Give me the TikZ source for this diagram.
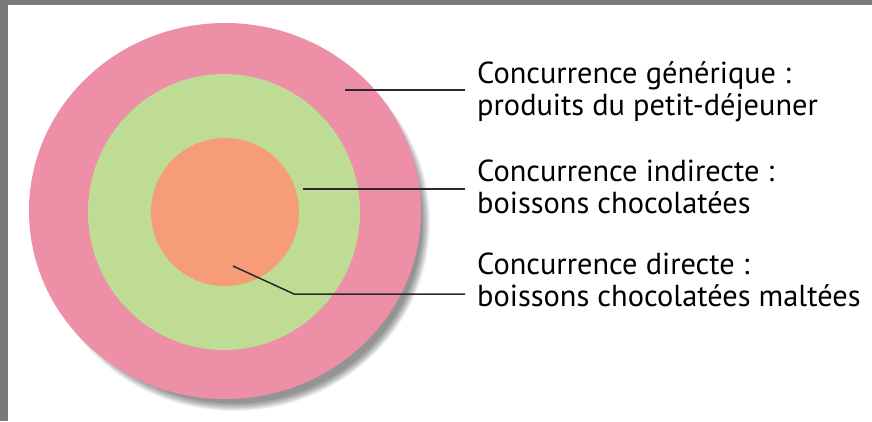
\documentclass[tikz,border=0pt]{standalone}
\usepackage{fontspec}
\setmainfont{PT Sans}
\definecolor{frame}{RGB}{122,122,122}
\definecolor{pinkring}{RGB}{238,143,168}
\definecolor{greenring}{RGB}{191,220,149}
\definecolor{orangecore}{RGB}{246,156,118}
\definecolor{lead}{RGB}{45,40,40}
\tikzset{
  label/.style={anchor=base west, align=left, inner sep=0pt, text=black,
    font=\fontsize{30.5}{31.5}\selectfont},
  leader/.style={draw=lead, line width=1.5bp},
}
\begin{document}
\begin{tikzpicture}[x=1bp, y=-1bp]
\useasboundingbox (0,0) rectangle (872,421);
\fill[frame] (0,0) rectangle (872,421);
\fill[white] (8,5) rectangle (872,421);
% soft shadow
\foreach \i in {0,...,9} {
  \fill[black, opacity=0.05] (234,222) ellipse [x radius={196bp-\i*0.9bp}, y radius={189bp-\i*0.9bp}];
}
\fill[pinkring] (225,211) ellipse [x radius=196bp, y radius=188bp];
\fill[greenring] (224,212) ellipse [x radius=136bp, y radius=138bp];
\fill[orangecore] (225,212) circle [radius=74bp];
% labels (anchor at baseline of the last line)
\node[label] (t1) at (477,115) {Concurrence générique :\\produits du petit-déjeuner};
\node[label] (t2) at (477,213) {Concurrence indirecte :\\boissons chocolatées};
\node[label] (t3) at (477,306) {Concurrence directe :\\boissons chocolatées maltées};
% leader points
\coordinate (a1) at (345,90);
\coordinate (e1) at (465,90);
\coordinate (a2) at (303,189);
\coordinate (e2) at (465,189);
\coordinate (a3) at (233,266);
\coordinate (k3) at (294,294);
\coordinate (e3) at (465,294);
\draw[leader] (a1) -- (e1);
\draw[leader] (a2) -- (e2);
\draw[leader] (a3) -- (k3) -- (e3);
\end{tikzpicture}
\end{document}
